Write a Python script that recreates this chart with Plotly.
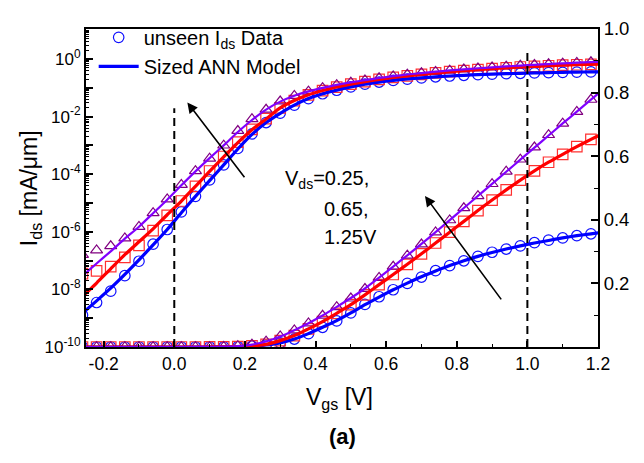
import plotly.graph_objects as go

# ---------------- data ----------------
vgs_data = [-0.26, -0.22, -0.18, -0.14, -0.10, -0.06, -0.02, 0.02, 0.06, 0.10,
            0.14, 0.18, 0.22, 0.26, 0.30, 0.34, 0.38, 0.42, 0.46, 0.50,
            0.54, 0.58, 0.62, 0.66, 0.70, 0.74, 0.78, 0.82, 0.86, 0.90,
            0.94, 0.98, 1.02, 1.06, 1.10, 1.14, 1.18]
vgs_model = vgs_data + [1.22]

# unseen Ids data [mA/um] for Vds = 0.25, 0.65, 1.25 V
ids_025_data = [1.3e-9, 3.5e-9, 8.7e-9, 3.0e-8, 9.5e-8, 3.7e-7, 1.2e-6, 4.9e-6, 1.7e-5, 6.3e-5,
                2.1e-4, 7.8e-4, 2.5e-3, 6.2e-3, 1.32e-2, 2.5e-2, 4.2e-2, 6.2e-2, 8.2e-2, 0.107,
                0.134, 0.158, 0.180, 0.200, 0.220, 0.240, 0.256, 0.271, 0.285, 0.298,
                0.308, 0.318, 0.328, 0.336, 0.343, 0.350, 0.356]
ids_065_data = [3.5e-8, 4.4e-8, 6.2e-8, 1.3e-7, 3.4e-7, 1.1e-6, 3.7e-6, 1.17e-5, 3.8e-5, 1.29e-4,
                4.1e-4, 1.29e-3, 3.6e-3, 8.5e-3, 0.020, 0.036, 0.057, 0.080, 0.106, 0.133,
                0.164, 0.196, 0.228, 0.260, 0.293, 0.327, 0.361, 0.395, 0.429, 0.462,
                0.494, 0.525, 0.554, 0.581, 0.606, 0.630, 0.653]
ids_125_data = [1.6e-7, 2.3e-7, 3.2e-7, 6.0e-7, 1.5e-6, 4.5e-6, 1.35e-5, 4.3e-5, 1.29e-4, 3.5e-4,
                1.0e-3, 3.2e-3, 8.3e-3, 0.0175, 0.034, 0.053, 0.075, 0.099, 0.126, 0.153,
                0.183, 0.218, 0.253, 0.288, 0.323, 0.361, 0.399, 0.437, 0.475, 0.513,
                0.552, 0.590, 0.628, 0.667, 0.703, 0.740, 0.778]

# Sized ANN model curves [mA/um]
ids_025_model = [1.5e-9, 4.0e-9, 1.1e-8, 3.3e-8, 1.05e-7, 3.5e-7, 1.2e-6, 4.6e-6, 1.7e-5, 6.0e-5,
                 2.1e-4, 7.5e-4, 2.4e-3, 6.2e-3, 1.3e-2, 2.5e-2, 4.2e-2, 6.2e-2, 8.3e-2, 0.107,
                 0.133, 0.157, 0.180, 0.201, 0.221, 0.239, 0.256, 0.271, 0.285, 0.297,
                 0.308, 0.318, 0.327, 0.335, 0.343, 0.350, 0.356, 0.362]
ids_065_model = [5.6e-9, 1.66e-8, 5.2e-8, 1.6e-7, 4.5e-7, 1.26e-6, 3.9e-6, 1.17e-5, 3.8e-5, 1.25e-4,
                 4.0e-4, 1.25e-3, 3.5e-3, 8.3e-3, 0.020, 0.036, 0.057, 0.080, 0.106, 0.133,
                 0.164, 0.196, 0.228, 0.260, 0.293, 0.327, 0.361, 0.395, 0.429, 0.462,
                 0.494, 0.525, 0.554, 0.581, 0.606, 0.630, 0.653, 0.675]
ids_125_model = [2.95e-8, 7.9e-8, 2.1e-7, 5.8e-7, 1.5e-6, 4.4e-6, 1.3e-5, 4.1e-5, 1.25e-4, 3.6e-4,
                 1.0e-3, 2.9e-3, 7.6e-3, 0.0175, 0.033, 0.053, 0.075, 0.099, 0.126, 0.154,
                 0.184, 0.218, 0.253, 0.288, 0.324, 0.361, 0.399, 0.437, 0.475, 0.513,
                 0.551, 0.589, 0.627, 0.665, 0.703, 0.740, 0.778, 0.815]

x_ticks = [-0.2, 0.0, 0.2, 0.4, 0.6, 0.8, 1.0, 1.2]
x_ticktext = ["-0.2", "0.0", "0.2", "0.4", "0.6", "0.8", "1.0", "1.2"]
log_exps = list(range(-10, 1))
log_ticktext = [("10<sup>%d</sup>" % e) if e % 2 == 0 else "" for e in log_exps]
lin_ticks = [0.2, 0.4, 0.6, 0.8, 1.0]
lin_ticktext = ["0.2", "0.4", "0.6", "0.8", "1.0"]

# ---------------- styles ----------------
series = [
    (ids_025_data, ids_025_model, "circle-open", "#1010FF", "#0000FF", 3.2),
    (ids_065_data, ids_065_model, "square-open", "#FF3030", "#FF0000", 3.2),
    (ids_125_data, ids_125_model, "triangle-up-open", "#800080", "#8000FF", 2.2),
]

FONT = "Liberation Sans, Arial, sans-serif"
fig = go.Figure()

for i, (d, m, sym, mc, lc, lw) in enumerate(series):
    for ax in ("y", "y2"):
        fig.add_trace(go.Scatter(
            x=vgs_data, y=d, mode="markers", yaxis=ax,
            marker=dict(symbol=sym, size=10.5, color=mc, line=dict(width=1.2, color=mc)),
            name="unseen I<sub>ds</sub> Data",
            showlegend=(i == 0 and ax == "y"),
        ))
for i, (d, m, sym, mc, lc, lw) in enumerate(series):
    for ax in ("y", "y2"):
        fig.add_trace(go.Scatter(
            x=vgs_model, y=m, mode="lines", yaxis=ax,
            line=dict(color=lc, width=lw, shape="spline", smoothing=0.6),
            name="Sized ANN Model",
            showlegend=(i == 0 and ax == "y"),
        ))

# the page body adds an 8px offset, so the figure is 8px smaller than the window
fig.update_layout(
    width=636, height=455,
    margin=dict(l=78, r=46, t=10, b=116),
    paper_bgcolor="white", plot_bgcolor="white",
    font=dict(family=FONT, size=17, color="black"),
    showlegend=True,
    legend=dict(x=0.015, y=1.035, xanchor="left", yanchor="top",
                bgcolor="rgba(0,0,0,0)", font=dict(size=20, family=FONT),
                itemwidth=40, tracegroupgap=0),
    xaxis=dict(
        range=[-0.25, 1.2], tickmode="array", tickvals=x_ticks, ticktext=x_ticktext,
        ticks="inside", ticklen=6, tickwidth=1.5, tickcolor="black",
        showline=True, linewidth=2, linecolor="black", mirror=True,
        showgrid=False, zeroline=False, tickfont=dict(size=17.5),
        minor=dict(ticks="inside", ticklen=3, tickwidth=1, dtick=0.1, tick0=0, tickcolor="black"),
    ),
    yaxis=dict(
        type="log", range=[-10, 1.04], tickmode="array",
        tickvals=[10.0 ** e for e in log_exps], ticktext=log_ticktext,
        ticks="inside", ticklen=7, tickwidth=1.5, tickcolor="black",
        showline=True, linewidth=2, linecolor="black",
        showgrid=False, zeroline=False, tickfont=dict(size=17),
        minor=dict(ticks="inside", ticklen=3, tickwidth=1, dtick="D1", tickcolor="black"),
    ),
    yaxis2=dict(
        overlaying="y", side="right", range=[0, 1.0], tickmode="array",
        tickvals=lin_ticks, ticktext=lin_ticktext,
        ticks="inside", ticklen=7, tickwidth=1.5, tickcolor="black",
        showline=True, linewidth=2, linecolor="black",
        showgrid=False, zeroline=False, tickfont=dict(size=18.5),
        minor=dict(ticks="inside", ticklen=4, tickwidth=1, dtick=0.1, tick0=0, tickcolor="black"),
    ),
)

# dashed reference lines at Vgs = 0 and 1.0 V
fig.add_shape(type="line", xref="x", yref="y2", x0=0.0, x1=0.0, y0=0, y1=0.751,
              line=dict(color="black", width=2, dash="8px,5px"))
fig.add_shape(type="line", xref="x", yref="y2", x0=1.0, x1=1.0, y0=0, y1=0.928,
              line=dict(color="black", width=2, dash="8px,5px"))

# arrows
for (hx, hy, tx, ty) in [(0.037, 0.769, 0.202, 0.529), (0.710, 0.475, 0.929, 0.145)]:
    fig.add_annotation(x=hx, y=hy, ax=tx, ay=ty, xref="x", yref="y2", axref="x", ayref="y2",
                       text="", showarrow=True, arrowhead=2, arrowsize=1.3, arrowwidth=1.6,
                       arrowcolor="black")

# Vds text
fig.add_annotation(x=0.309, y=0.527, xref="x", yref="y2", xanchor="left", yanchor="middle",
                   text="V<sub>ds</sub>=0.25,", showarrow=False, font=dict(size=20))
fig.add_annotation(x=0.419, y=0.435, xref="x", yref="y2", xanchor="left", yanchor="middle",
                   text="0.65,", showarrow=False, font=dict(size=20))
fig.add_annotation(x=0.419, y=0.347, xref="x", yref="y2", xanchor="left", yanchor="middle",
                   text="1.25V", showarrow=False, font=dict(size=20))

# axis titles and panel label
fig.add_annotation(x=0.495, y=-0.161, xref="paper", yref="paper", xanchor="center", yanchor="middle",
                   text="V<sub>gs</sub> [V]", showarrow=False, font=dict(size=23))
fig.add_annotation(x=-0.109, y=0.5, xref="paper", yref="paper", xanchor="center", yanchor="middle",
                   text="I<sub>ds</sub> [mA/μm]", textangle=-90, showarrow=False, font=dict(size=23))
fig.add_annotation(x=0.5, y=-0.283, xref="paper", yref="paper", xanchor="center", yanchor="middle",
                   text="<b>(a)</b>", showarrow=False, font=dict(size=22))

fig.write_html("out.html")
